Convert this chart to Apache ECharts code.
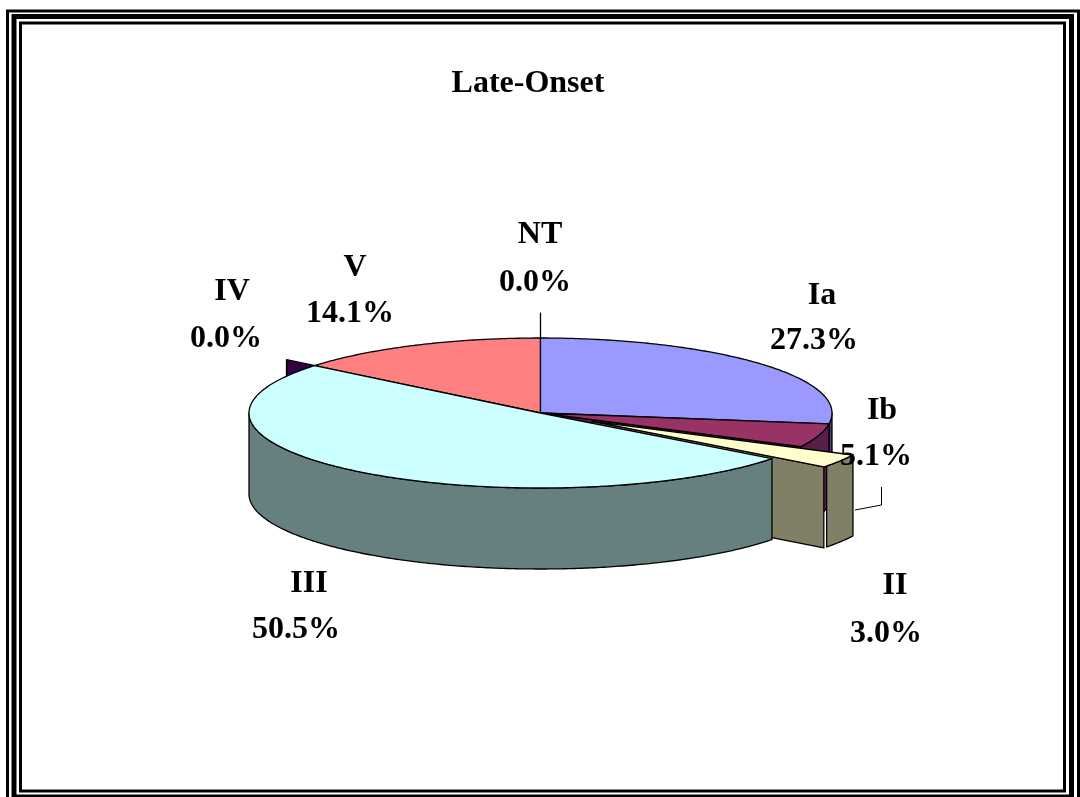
<!DOCTYPE html>
<html>
<head>
<meta charset="utf-8">
<style>html,body{margin:0;padding:0;background:#fff}#chart{width:1080px;height:797px}</style>
<script src="https://cdn.jsdelivr.net/npm/echarts@6/dist/echarts.min.js"></script>
</head>
<body>
<div id="chart"></div>
<script>
// Slices, clockwise from twelve o'clock
const categories = ['Ia', 'Ib', 'II', 'III', 'IV', 'V', 'NT'];
const shares = [27.3, 5.1, 3.0, 50.5, 0.0, 14.1, 0.0];
const explode = [0, 0, 0.21, 0, 0.125, 0, 0.33];
const topColors = ['#9999FF', '#993366', '#FFFFCC', '#CCFFFF', '#660066', '#FF8080', '#000000'];
const sideColors = ['#4D3F78', '#5A1F48', '#808066', '#668080', '#330044', '#804040', '#000000'];

// Back-to-front painting sequence (slice indices)
const paintOrder = [6, 4, 5, 0, 1, 2, 3];

// Label anchors: [name x, name y, value x, value y]
const labelAnchors = {
  Ia: [822, 295.5, 814, 340.5],
  Ib: [882, 410.5, 876, 456.5],
  II: [895, 585.5, 886, 633.5],
  III: [309, 583.5, 296, 629.5],
  IV: [232, 291.5, 226, 338.5],
  V: [355, 267.5, 350, 313.5],
  NT: [540, 234.5, 535, 282.5]
};

// Projection of the tilted disc
const disc = { cx: 540.5, cy: 413, rx: 291.5, ry: 75, depth: 81 };
const FONT = '"Liberation Serif", "Times New Roman", serif';
const FONT_SIZE = 32;
const EDGE = 1.3;
const TURN = Math.PI * 2;
// Small seam between the radial and outer walls of a pulled-out slice
const SEAM = 0.016;

const total = shares.reduce((a, b) => a + b, 0);
const starts = [];
shares.reduce((acc, v, i) => { starts[i] = acc; return acc + v; }, 0);

function sliceGeometry(i) {
  const a = (starts[i] / total) * TURN;
  const b = ((starts[i] + shares[i]) / total) * TURN;
  const mid = (a + b) / 2;
  const ox = explode[i] * disc.rx * Math.sin(mid);
  const oy = -explode[i] * disc.ry * Math.cos(mid);
  const at = (t, drop) => [
    disc.cx + ox + disc.rx * Math.sin(t),
    disc.cy + oy - disc.ry * Math.cos(t) + (drop || 0)
  ];
  const apex = [disc.cx + ox, disc.cy + oy];
  return { a, b, at, apex };
}

function arcPoints(at, from, to, drop) {
  const n = Math.max(2, Math.ceil(Math.abs(to - from) * 90));
  const pts = [];
  for (let k = 0; k <= n; k++) pts.push(at(from + (to - from) * k / n, drop));
  return pts;
}

function polygon(points, fill) {
  return {
    type: 'polygon',
    shape: { points },
    style: { fill, stroke: '#000', lineWidth: EDGE, lineJoin: 'round' }
  };
}

function renderSlice(params, api) {
  const i = api.value(0);
  const { a, b, at, apex } = sliceGeometry(i);
  const children = [];
  const d = disc.depth;
  const lowApex = [apex[0], apex[1] + d];
  const nextOut = explode[(i + 1) % shares.length] > 0 && shares[(i + 1) % shares.length] > 0;

  // Radial wall, where a pulled-out slice or the gap it leaves shows it
  if (explode[i] > 0 || (nextOut && Math.sin(b) > 1e-6)) {
    const t = Math.sin(b) > 1e-6 ? b : a;
    children.push(polygon([apex, at(t), at(t, d), lowApex], sideColors[i]));
  }
  // Outer wall, front half of the rim only
  const from = Math.max(a, Math.PI / 2);
  const to = Math.min(explode[i] > 0 ? b - SEAM : b, Math.PI * 1.5);
  if (to > from) {
    children.push(polygon(
      arcPoints(at, from, to, 0).concat(arcPoints(at, to, from, d)),
      sideColors[i]
    ));
  }
  // Top face
  if (b > a) {
    children.push(polygon([apex].concat(arcPoints(at, a, b, 0)), topColors[i]));
  }
  return { type: 'group', children };
}

function renderLabel(params, api) {
  const i = api.value(0);
  const p = labelAnchors[categories[i]];
  const text = (x, y, s) => ({
    type: 'text',
    style: {
      x, y, text: s, fill: '#000',
      font: 'bold ' + FONT_SIZE + 'px ' + FONT,
      textAlign: 'center', textVerticalAlign: 'middle'
    }
  });
  return {
    type: 'group',
    children: [
      text(p[0], p[1], categories[i]),
      text(p[2], p[3], shares[i].toFixed(1) + '%')
    ]
  };
}

const chart = echarts.init(document.getElementById('chart'), null, { renderer: 'canvas' });

const frame = (x1, y1, x2, y2, w) => ({
  type: 'rect',
  silent: true,
  shape: { x: x1, y: y1, width: x2 - x1, height: y2 - y1 },
  style: { fill: 'none', stroke: '#000', lineWidth: w }
});

chart.setOption({
  animation: false,
  backgroundColor: '#fff',
  title: {
    text: 'Late-Onset',
    left: 523,
    top: 63,
    textAlign: 'center',
    textStyle: { fontFamily: FONT, fontWeight: 'bold', fontSize: FONT_SIZE, color: '#000' }
  },
  graphic: [
    frame(7.5, 11, 1078.5, 802, 3),
    frame(14, 16.5, 1071.5, 797, 5),
    frame(20.5, 23, 1064.5, 791, 3),
    // Leader from the Ib label down to its slice
    {
      type: 'polyline',
      silent: true,
      z: 10,
      shape: { points: [[881.5, 487], [881.5, 505], [855, 510]] },
      style: { fill: 'none', stroke: '#000', lineWidth: 1 }
    }
  ],
  series: [
    {
      type: 'custom',
      coordinateSystem: 'none',
      silent: true,
      z: 2,
      data: paintOrder.map(i => [i, shares[i]]),
      renderItem: renderSlice
    },
    {
      type: 'custom',
      coordinateSystem: 'none',
      silent: true,
      z: 5,
      data: paintOrder.map(i => [i, shares[i]]),
      renderItem: renderLabel
    }
  ]
});
</script>
</body>
</html>
